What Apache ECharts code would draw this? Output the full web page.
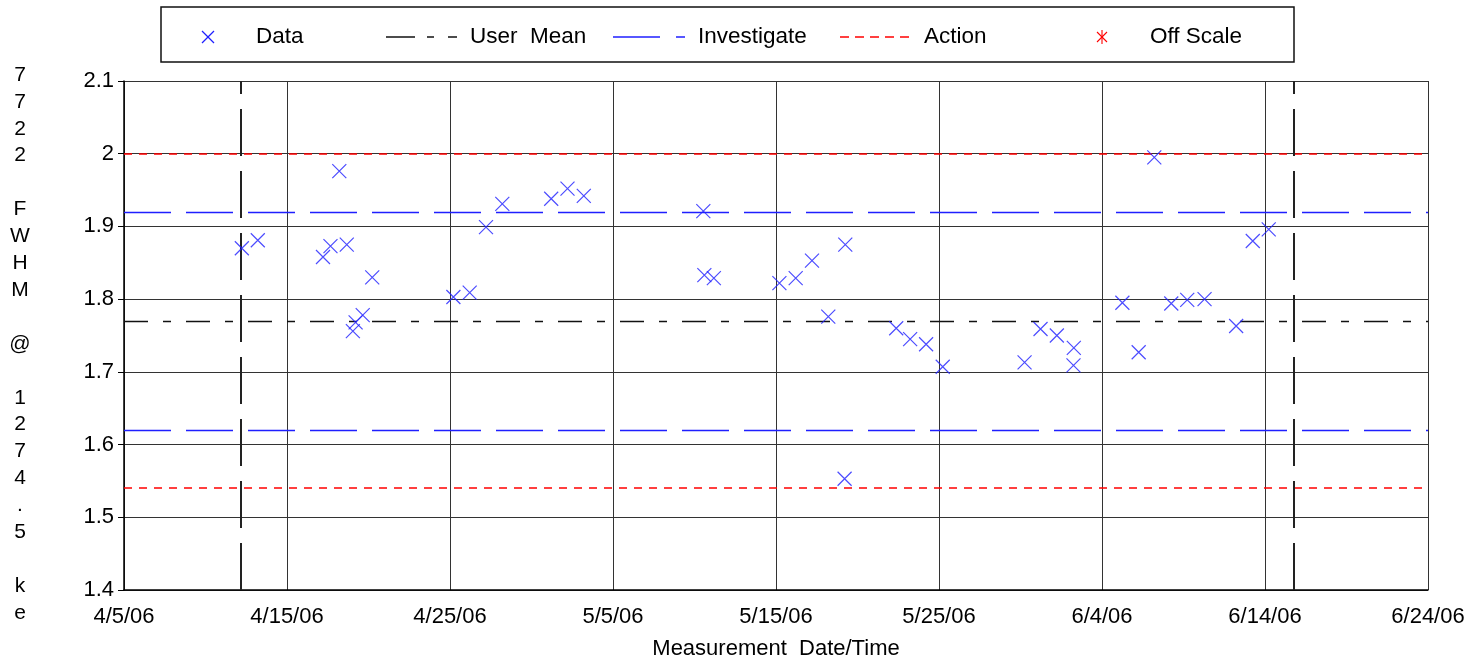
<!DOCTYPE html>
<html>
<head>
<meta charset="utf-8">
<script src="https://cdn.jsdelivr.net/npm/echarts@6/dist/echarts.min.js"></script>
<style>
  html, body { margin: 0; padding: 0; background: #fff; }
  #chart { width: 1470px; height: 665px; }
</style>
</head>
<body>
<div id="chart"></div>
<script>
// ---- data ----
const measurementTimes = [
  '2006-04-12 05:30', '2006-04-13 05:00', '2006-04-17 05:00', '2006-04-17 16:00',
  '2006-04-18 05:00', '2006-04-18 16:00', '2006-04-19 01:00', '2006-04-19 05:00',
  '2006-04-19 15:30', '2006-04-20 05:30', '2006-04-25 05:00', '2006-04-26 05:00',
  '2006-04-27 05:00', '2006-04-28 05:00', '2006-05-01 05:00', '2006-05-02 05:00',
  '2006-05-03 05:00', '2006-05-10 13:00', '2006-05-10 14:30', '2006-05-11 04:30',
  '2006-05-15 05:00', '2006-05-16 05:00', '2006-05-17 05:00', '2006-05-18 05:00',
  '2006-05-19 06:00', '2006-05-19 05:00', '2006-05-22 09:00', '2006-05-23 05:30',
  '2006-05-24 05:00', '2006-05-25 05:30', '2006-05-30 06:00', '2006-05-31 05:30',
  '2006-06-01 05:30', '2006-06-02 06:30', '2006-06-02 06:00', '2006-06-05 06:00',
  '2006-06-06 06:00', '2006-06-07 05:00', '2006-06-08 06:00', '2006-06-09 05:30',
  '2006-06-10 07:00', '2006-06-12 05:30', '2006-06-13 06:00', '2006-06-14 05:30'
];
const fwhmValues = [
  1.870, 1.881, 1.858, 1.873,
  1.976, 1.875, 1.756, 1.768,
  1.778, 1.830, 1.803, 1.809,
  1.899, 1.931, 1.938, 1.952,
  1.942, 1.921, 1.833, 1.829,
  1.822, 1.829, 1.853, 1.776,
  1.875, 1.553, 1.760, 1.745,
  1.738, 1.707, 1.713, 1.759,
  1.750, 1.733, 1.709, 1.795,
  1.727, 1.995, 1.794, 1.799,
  1.800, 1.763, 1.880, 1.896
];
const userMean = 1.770;
const investigateLimits = [1.617, 1.924];
const actionLimits = [1.540, 2.000];
const periodBoundaries = ['2006-04-12 03:30', '2006-06-15 18:00'];
const axisStartDate = '2006-04-05 00:00';
const axisEndDate = '2006-06-24 00:00';
const yMin = 1.4, yMax = 2.1, yStep = 0.1;
const xStepDays = 10;
const yAxisTitle = '7722 FWHM @ 1274.5 ke';
const xAxisTitle = 'Measurement  Date/Time';
const legendNames = ['Data', 'User  Mean', 'Investigate', 'Action', 'Off Scale'];

// ---- helpers ----
function parseUTC(s) {
  const m = s.match(/(\d+)-(\d+)-(\d+) (\d+):(\d+)/);
  return Date.UTC(+m[1], +m[2] - 1, +m[3], +m[4], +m[5]);
}
const baseMs = parseUTC(axisStartDate);
function dayOffset(s) { return (parseUTC(s) - baseMs) / 86400000; }
function fmtDay(d) {
  const dt = new Date(baseMs + d * 86400000);
  return (dt.getUTCMonth() + 1) + '/' + dt.getUTCDate() + '/' + String(dt.getUTCFullYear()).slice(2);
}
const points = measurementTimes.map((t, i) => [dayOffset(t), fwhmValues[i]]);
const xMax = dayOffset(axisEndDate);

const FONT = "'Liberation Sans', Arial, Helvetica, sans-serif";
const BLUE = '#1f1fff';
const RED = '#ff0000';
const xSym = 'path://M0,0L10,10M10,0L0,10';
const FS = 22;

const chart = echarts.init(document.getElementById('chart'), null, { renderer: 'canvas' });

const LY = 37;
function legendText(x, t) {
  return { type: 'text', x: x, y: LY, style: { text: t, font: '22.5px ' + FONT, fill: '#000', textVerticalAlign: 'middle' } };
}
const legendGraphics = [
  { type: 'rect', shape: { x: 161, y: 7, width: 1133, height: 55 }, style: { fill: '#fff', stroke: '#111', lineWidth: 1.5 } },
  // Data
  { type: 'polyline', shape: { points: [[202, LY - 6], [214, LY + 6]] }, style: { stroke: BLUE, lineWidth: 1.2 } },
  { type: 'polyline', shape: { points: [[214, LY - 6], [202, LY + 6]] }, style: { stroke: BLUE, lineWidth: 1.2 } },
  legendText(256, legendNames[0]),
  // User Mean
  { type: 'line', shape: { x1: 386, y1: LY, x2: 415, y2: LY }, style: { stroke: '#111', lineWidth: 1.5 } },
  { type: 'line', shape: { x1: 427, y1: LY, x2: 434, y2: LY }, style: { stroke: '#111', lineWidth: 1.5 } },
  { type: 'line', shape: { x1: 448, y1: LY, x2: 457, y2: LY }, style: { stroke: '#111', lineWidth: 1.5 } },
  legendText(470, legendNames[1]),
  // Investigate
  { type: 'line', shape: { x1: 613, y1: LY, x2: 660, y2: LY }, style: { stroke: BLUE, lineWidth: 1.5 } },
  { type: 'line', shape: { x1: 676, y1: LY, x2: 685, y2: LY }, style: { stroke: BLUE, lineWidth: 1.5 } },
  legendText(698, legendNames[2]),
  // Action
  { type: 'line', shape: { x1: 840, y1: LY, x2: 910, y2: LY }, style: { stroke: RED, lineWidth: 1.3, lineDash: [9, 6] } },
  legendText(924, legendNames[3]),
  // Off Scale
  { type: 'line', shape: { x1: 1097, y1: LY - 5, x2: 1107, y2: LY + 5 }, style: { stroke: RED, lineWidth: 1.1 } },
  { type: 'line', shape: { x1: 1107, y1: LY - 5, x2: 1097, y2: LY + 5 }, style: { stroke: RED, lineWidth: 1.1 } },
  { type: 'line', shape: { x1: 1102, y1: LY - 7, x2: 1102, y2: LY + 7 }, style: { stroke: RED, lineWidth: 1.1 } },
  legendText(1150, legendNames[4]),
  // y axis title (stacked characters)
  { type: 'text', x: 20, y: 344, style: { text: yAxisTitle.split('').join('\n'), font: '21px ' + FONT, fill: '#000', align: 'center', verticalAlign: 'middle', lineHeight: 26.9 } }
];

const option = {
  animation: false,
  backgroundColor: '#fff',
  grid: { left: 124, right: 42, top: 81, bottom: 68, containLabel: false },
  xAxis: {
    type: 'value',
    min: 0, max: xMax, interval: xStepDays,
    name: xAxisTitle, nameLocation: 'middle', nameGap: 48,
    nameTextStyle: { fontFamily: FONT, fontSize: FS, color: '#000' },
    axisLine: { show: true, lineStyle: { color: '#000', width: 1.5 } },
    axisTick: { show: false },
    axisLabel: { formatter: fmtDay, fontFamily: FONT, fontSize: FS, color: '#000', margin: 16, showMinLabel: true, showMaxLabel: true },
    splitLine: { show: true, lineStyle: { color: '#333', width: 1 } }
  },
  yAxis: {
    type: 'value',
    min: yMin, max: yMax, interval: yStep,
    axisLine: { show: true, lineStyle: { color: '#000', width: 1.5 } },
    axisTick: { show: true, length: 6, lineStyle: { color: '#000', width: 1 } },
    axisLabel: { fontFamily: FONT, fontSize: FS, color: '#000', margin: 10 },
    splitLine: { show: true, lineStyle: { color: '#333', width: 1 } }
  },
  graphic: legendGraphics,
  series: [{
    name: 'Data',
    type: 'scatter',
    data: points,
    symbol: xSym,
    symbolSize: 14,
    itemStyle: { color: 'rgba(0,0,0,0)', borderColor: BLUE, borderWidth: 1.2 },
    z: 5,
    markLine: {
      silent: true,
      symbol: ['none', 'none'],
      label: { show: false },
      animation: false,
      data: [
        { yAxis: userMean, lineStyle: { color: '#111', width: 1.3, type: [24, 15, 8, 15] } },
        { yAxis: investigateLimits[0], lineStyle: { color: BLUE, width: 1.4, type: [47, 15] } },
        { yAxis: investigateLimits[1], lineStyle: { color: BLUE, width: 1.4, type: [47, 15] } },
        { yAxis: actionLimits[0], lineStyle: { color: RED, width: 1.5, type: [8, 7], opacity: 1 } },
        { yAxis: actionLimits[1], lineStyle: { color: RED, width: 1.5, type: [8, 7], opacity: 1 } },
        { xAxis: dayOffset(periodBoundaries[0]), lineStyle: { color: '#222', width: 2, type: [47, 15] } },
        { xAxis: dayOffset(periodBoundaries[1]), lineStyle: { color: '#222', width: 2, type: [47, 15] } }
      ]
    }
  }]
};
chart.setOption(option);
</script>
</body>
</html>
